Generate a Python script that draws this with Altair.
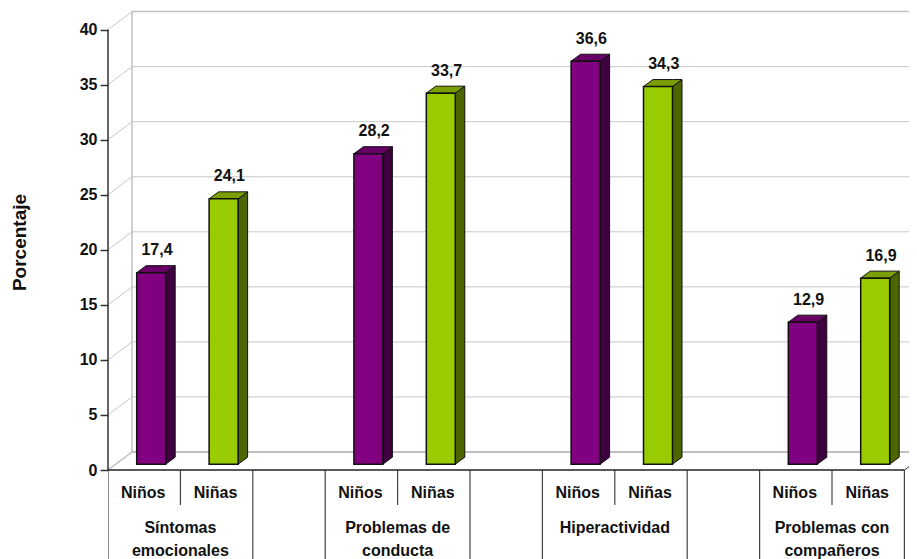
import altair as alt
import pandas as pd

FONT = "Liberation Sans"
# chart values
group_lines = [["Síntomas", "emocionales"], ["Problemas de", "conducta"], ["Hiperactividad"], ["Problemas con", "compañeros"]]
ninos = [17.4, 28.2, 36.6, 12.9]
ninas = [24.1, 33.7, 34.3, 16.9]
sex_labels = ["Niños", "Niñas"]
y_ticks = [0, 5, 10, 15, 20, 25, 30, 35, 40]

# geometry in data units: x in category slots, y in percent
PX_X = 72.4
PX_Y = 11.01
WALL_DX, WALL_DY = 24 / PX_X, 18 / PX_Y
BAR_DX, BAR_DY = 9.5 / PX_X, 7 / PX_Y
BAR_W = 29 / PX_X
BAR_SHIFT = 7 / PX_X
BAR_BASE = 5.8 / PX_Y
X_MAX = 801 / PX_X
Y_TOP, Y_BOTTOM = 462 / PX_Y, -89 / PX_Y
GROUP_START = [0, 3, 6, 9]
END = 11

xs = alt.Scale(domain=[0, X_MAX], nice=False, zero=False)
ys = alt.Scale(domain=[Y_BOTTOM, Y_TOP], nice=False, zero=False)
X = lambda f="x": alt.X(f + ":Q", scale=xs, axis=None)
Y = alt.Y("y:Q", scale=ys, title="Porcentaje",
          axis=alt.Axis(values=y_ticks, grid=False, domain=False, tickSize=8, tickColor="#333333",
                        tickWidth=1.5, labelFont=FONT, labelFontSize=16, labelFontWeight="bold",
                        labelColor="#111111", labelPadding=3, titleFont=FONT, titleFontSize=19,
                        titleFontWeight="bold", titleColor="#111111", titleX=-79, titleY=234))


def rules(rows, color, width):
    d = pd.DataFrame(rows, columns=["x", "x2", "y", "y2"])
    return alt.Chart(d).mark_rule(color=color, strokeWidth=width, clip=True).encode(
        x=X(), x2="x2:Q", y=Y, y2="y2:Q")


# back wall, floor
grid = [[WALL_DX, X_MAX, v + WALL_DY, v + WALL_DY] for v in y_ticks[1:-1]]
diag = [[0, WALL_DX, v, v + WALL_DY] for v in y_ticks[1:]]
layers = [
    rules(grid, "#c8c8c8", 1),
    rules(diag, "#c8c8c8", 1),
    rules([[WALL_DX, X_MAX, 40 + WALL_DY, 40 + WALL_DY]], "#c0c0c0", 1.5),
    rules([[WALL_DX, WALL_DX, WALL_DY, 40 + WALL_DY]], "#c0c0c0", 1.5),
    rules([[WALL_DX, X_MAX, WALL_DY, WALL_DY]], "#aaaaaa", 1.5),
    rules([[0, WALL_DX, 0, WALL_DY]], "#c0c0c0", 1.5),
    rules([[END, END + WALL_DX, 0, WALL_DY]], "#333333", 1),
]

# bars
front, side, top, lab = [], [], [], []
colors = {"Niños": ("#800080", "#3f003f", "#660066"), "Niñas": ("#99cc00", "#4d6600", "#7a9f00")}
for gi, start in enumerate(GROUP_START):
    for si, (name, val) in enumerate(zip(sex_labels, (ninos[gi], ninas[gi]))):
        c = start + si + 0.5 + BAR_SHIFT
        x0, x1 = c - BAR_W / 2, c + BAR_W / 2
        b = BAR_BASE
        # the bar's front face stands slightly behind the floor's front edge
        v = val + b
        k = f"{gi}-{si}"
        front.append(dict(x=x0, x2=x1, y=v, y2=b, s=name))
        side += [dict(x=x1, y=v, y2=b, k=k, s=name),
                 dict(x=x1 + BAR_DX, y=v + BAR_DY, y2=b + BAR_DY, k=k, s=name)]
        top += [dict(x=x0, y=v, y2=v, k=k, s=name),
                dict(x=x0 + BAR_DX, y=v + BAR_DY, y2=v, k=k, s=name),
                dict(x=x1, y=v + BAR_DY, y2=v, k=k, s=name),
                dict(x=x1 + BAR_DX, y=v + BAR_DY, y2=v + BAR_DY, k=k, s=name)]
        lab.append(dict(x=c + BAR_DX / 2 + 1 / PX_X, y=v + 2.05, t=f"{val:.1f}".replace(".", ",")))

sex_color = alt.Color("s:N", scale=alt.Scale(domain=sex_labels, range=[colors[s][0] for s in sex_labels]), legend=None)
side_color = alt.Color("s:N", scale=alt.Scale(domain=sex_labels, range=[colors[s][1] for s in sex_labels]), legend=None)
top_color = alt.Color("s:N", scale=alt.Scale(domain=sex_labels, range=[colors[s][2] for s in sex_labels]), legend=None)

side_c = (alt.Chart(pd.DataFrame(side)).mark_area(stroke="#111111", strokeWidth=1)
          .encode(x=X(), y=Y, y2="y2:Q", detail="k:N", color=side_color))
top_c = (alt.Chart(pd.DataFrame(top)).mark_area(stroke="#111111", strokeWidth=1)
         .encode(x=X(), y=Y, y2="y2:Q", detail="k:N", color=top_color))
front_c = (alt.Chart(pd.DataFrame(front)).mark_rect(stroke="#111111", strokeWidth=1.5)
           .encode(x=X(), x2="x2:Q", y=Y, y2="y2:Q", color=sex_color))
labels_c = (alt.Chart(pd.DataFrame(lab))
            .mark_text(font=FONT, fontSize=16, fontWeight="bold", color="#111111", baseline="middle")
            .encode(x=X(), y=Y, text="t:N"))

# y axis line
axis_line = (alt.Chart(pd.DataFrame({"x": [0], "y": [0], "y2": [40]}))
             .mark_rule(color="#333333", strokeWidth=1.5).encode(x=X(), y=Y, y2="y2:Q"))

# category table under the axis
ROW1_END = -35 / PX_Y
major = [0, 2, 3, 5, 6, 8, 9, 11]
minor = [1, 4, 7, 10]
tbl = [rules([[v, v, 0, Y_BOTTOM] for v in major], "#444444", 1.2),
       rules([[v, v, 0, ROW1_END] for v in minor], "#444444", 1.2),
       rules([[0, END, 0, 0]], "#222222", 1.5)]

txt = []
for start, lines in zip(GROUP_START, group_lines):
    for si, name in enumerate(sex_labels):
        txt.append(dict(x=start + si + 0.5 - 1 / PX_X, y=-22.5 / PX_Y, t=name))
    for li, line in enumerate(lines):
        txt.append(dict(x=start + 1, y=(-58 - 23 * li) / PX_Y, t=line))
txt_c = (alt.Chart(pd.DataFrame(txt))
         .mark_text(font=FONT, fontSize=16, fontWeight="bold", color="#111111", baseline="middle")
         .encode(x=X(), y=Y, text="t:N"))

chart = (alt.layer(*layers, axis_line, side_c, top_c, front_c, labels_c, *tbl, txt_c)
         .resolve_scale(color="independent")
         .properties(width=801, height=551, background="white",
                     padding={"left": 100, "top": 0, "right": 0, "bottom": 0},
                     autosize=alt.AutoSizeParams(type="none"))
         .configure_view(stroke=None))

chart.save("out.html", embed_options={"renderer": "svg", "actions": False})
